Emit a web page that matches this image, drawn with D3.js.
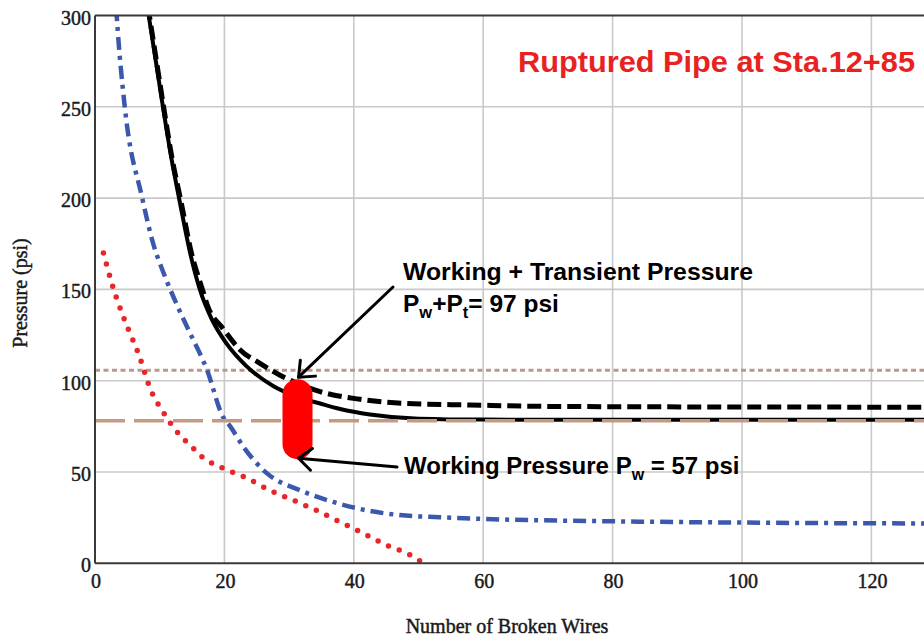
<!DOCTYPE html>
<html>
<head>
<meta charset="utf-8">
<script src="https://cdn.jsdelivr.net/npm/d3@7"></script>
<style>
  html, body { margin: 0; padding: 0; background: #fff; }
  svg { display: block; }
</style>
</head>
<body>
<svg id="chart" width="924" height="642"></svg>
<script>
// Pressure capacity versus number of broken prestressing wires

// Black solid curve
const solidWires = [7.6, 8.3, 9.4, 10.5, 11.8, 13.1, 14.7, 16.2, 18.0, 20.4, 23.4, 27.6, 31.0, 34.8, 37.9, 42.5, 50.0, 60.0, 80.0, 100.0, 130.0];
const solidPsi   = [316, 300, 275, 250, 222, 198, 170, 150, 134, 120, 108, 97, 91.5, 87.5, 84.5, 81.5, 79.2, 78.7, 78.6, 78.6, 78.6];

// Black dashed curve
const dashedWires = [7.7, 8.4, 9.5, 10.6, 11.9, 13.3, 14.9, 16.6, 17.4, 19.8, 22.4, 25.5, 28.6, 31.5, 34.8, 41.0, 47.6, 58.0, 70.8, 100.0, 130.0];
const dashedPsi   = [316, 300, 275, 250, 222, 198, 170, 150, 141, 128.5, 117, 109.5, 103, 98.2, 94, 89.8, 87.6, 86.7, 85.9, 85.6, 85.5];

// Blue dash-dot curve
const blueWires = [3.0, 3.35, 4.6, 7.3, 9.0, 10.6, 12.6, 14.7, 17.3, 19.8, 20.9, 22.9, 26.5, 31.7, 36.8, 42.0, 47.1, 53.3, 60.0, 80.0, 100.0, 130.0];
const bluePsi   = [320, 300, 250, 200, 175, 159, 142, 126, 106, 80, 75, 64, 49.5, 40, 33.6, 29, 26.4, 25.2, 24.3, 23.0, 22.3, 21.8];

// Red dotted curve
const redWires = [1.3, 2.8, 4.6, 6.8, 8.6, 10.5, 11.6, 13.1, 14.9, 16.5, 19.8, 23.5, 27.0, 30.6, 34.2, 37.9, 41.4, 45.0, 48.7, 50.5];
const redPsi   = [170, 151, 133, 114, 95, 83, 77, 70.3, 64, 58.4, 52, 46.6, 40, 34.6, 29, 22.6, 16.5, 10, 4.6, 0.7];

// Horizontal reference levels (psi)
const refDottedPsi = 105.7;
const refDashedPsi = 78.0;

// Annotated pressures
const workingPsi = 57;
const workingTransientPsi = 97;
const markerWires = 31.3;

// Axes
const xTicks = [0, 20, 40, 60, 80, 100, 120];
const yTicks = [0, 50, 100, 150, 200, 250, 300];
const xTitle = "Number of Broken Wires";
const yTitle = "Pressure (psi)";
const chartTitle = "Ruptured Pipe at Sta.12+85";

const W = 924, H = 642;
const plotLeft = 95, plotTop = 15.5, plotBottom = 563.3;
const pxPerWire = 6.47;

const x = d3.scaleLinear().domain([0, (W - plotLeft) / pxPerWire]).range([plotLeft, W]);
const y = d3.scaleLinear().domain([0, 300]).range([plotBottom, plotTop]);

const svg = d3.select("#chart");

svg.append("defs").append("clipPath").attr("id", "plot-clip")
  .append("rect").attr("x", plotLeft).attr("y", plotTop)
  .attr("width", W - plotLeft).attr("height", plotBottom - plotTop);

// Grid
const grid = svg.append("g");
grid.selectAll("line.v").data(xTicks.filter(d => d > 0)).join("line")
  .attr("x1", d => x(d)).attr("x2", d => x(d))
  .attr("y1", plotTop).attr("y2", plotBottom)
  .attr("stroke", "#c9c9c9").attr("stroke-width", 1.6);
grid.selectAll("line.h").data(yTicks.filter(d => d > 0 && d < 300)).join("line")
  .attr("x1", plotLeft).attr("x2", W)
  .attr("y1", d => y(d)).attr("y2", d => y(d))
  .attr("stroke", "#c9c9c9").attr("stroke-width", 1.6);

const plot = svg.append("g").attr("clip-path", "url(#plot-clip)");

const line = d3.line().x(d => x(d[0])).y(d => y(d[1])).curve(d3.curveMonotoneX);
const zip = (a, b) => a.map((v, i) => [v, b[i]]);

// Reference levels
plot.append("line")
  .attr("x1", plotLeft).attr("x2", W)
  .attr("y1", y(refDottedPsi)).attr("y2", y(refDottedPsi))
  .attr("stroke", "#b89a8c").attr("stroke-width", 3)
  .attr("stroke-dasharray", "5,3.5");

// Curves
plot.append("path").attr("d", line(zip(redWires, redPsi)))
  .attr("fill", "none").attr("stroke", "#e8262a").attr("stroke-width", 5.5)
  .attr("stroke-linecap", "round").attr("stroke-dasharray", "0,11.5");

plot.append("path").attr("d", line(zip(blueWires, bluePsi)))
  .attr("fill", "none").attr("stroke", "#3b58ad").attr("stroke-width", 4.5)
  .attr("stroke-dasharray", "13,6,4,6");

plot.append("path").attr("d", line(zip(solidWires, solidPsi)))
  .attr("fill", "none").attr("stroke", "#000").attr("stroke-width", 4);

plot.append("path").attr("d", line(zip(dashedWires, dashedPsi)))
  .attr("fill", "none").attr("stroke", "#000").attr("stroke-width", 5)
  .attr("stroke-dasharray", "14,6");

plot.append("line")
  .attr("x1", plotLeft).attr("x2", W)
  .attr("y1", y(refDashedPsi)).attr("y2", y(refDashedPsi))
  .attr("stroke", "#c49a82").attr("stroke-width", 3.5)
  .attr("stroke-dasharray", "30,9");

// Axis frame
const frame = svg.append("g").attr("stroke", "#3a3a3a").attr("stroke-width", 2);
frame.append("line").attr("x1", plotLeft).attr("x2", W).attr("y1", plotBottom).attr("y2", plotBottom);
frame.append("line").attr("x1", plotLeft).attr("x2", W).attr("y1", plotTop).attr("y2", plotTop);
frame.append("line").attr("x1", plotLeft).attr("x2", plotLeft).attr("y1", plotTop).attr("y2", plotBottom);

// Tick labels
const tickFont = "'Liberation Serif', 'Times New Roman', serif";
const serifText = sel => sel
  .attr("font-family", tickFont).attr("font-size", 20)
  .attr("fill", "#1a1a1a").attr("stroke", "#1a1a1a").attr("stroke-width", 0.45);

svg.append("g").selectAll("text").data(xTicks).join("text")
  .attr("x", d => x(d) + 1).attr("y", 588)
  .attr("text-anchor", "middle")
  .call(serifText)
  .text(d => d);
svg.append("g").selectAll("text").data(yTicks).join("text")
  .attr("x", 91).attr("y", d => y(d) + 9)
  .attr("text-anchor", "end")
  .call(serifText)
  .text(d => d);

// Axis titles
svg.append("text")
  .attr("x", 507).attr("y", 633)
  .attr("text-anchor", "middle")
  .call(serifText)
  .text(xTitle);
svg.append("text")
  .attr("transform", "translate(27,293) rotate(-90)")
  .attr("text-anchor", "middle")
  .call(serifText)
  .text(yTitle);

// Pressure range marker
const mx = x(markerWires);
const markerTop = y(workingTransientPsi) - 7;
const markerBottom = y(workingPsi);
svg.append("rect")
  .attr("x", mx - 15).attr("width", 30)
  .attr("y", markerTop).attr("height", markerBottom - markerTop)
  .attr("rx", 15).attr("ry", 15)
  .attr("fill", "#ff0000");

// Arrows
function arrow(x0, y0, x1, y1) {
  const g = svg.append("g").attr("stroke", "#000").attr("stroke-width", 3)
    .attr("fill", "none").attr("stroke-linecap", "round").attr("stroke-linejoin", "round");
  g.append("line").attr("x1", x0).attr("y1", y0).attr("x2", x1).attr("y2", y1);
  const a = Math.atan2(y0 - y1, x0 - x1);
  const len = 17, spread = 0.7;
  const p1 = [x1 + len * Math.cos(a - spread), y1 + len * Math.sin(a - spread)];
  const p2 = [x1 + len * Math.cos(a + spread), y1 + len * Math.sin(a + spread)];
  g.append("path").attr("d", `M${p1[0]},${p1[1]}L${x1},${y1}L${p2[0]},${p2[1]}`);
}
arrow(393, 287, mx + 1, markerTop - 2);
arrow(397, 467, mx + 1, markerBottom - 1);

// Annotation text
const annFont = "'Liberation Sans', Arial, sans-serif";
const ann = svg.append("g")
  .attr("font-family", annFont).attr("font-weight", "bold")
  .attr("font-size", 24.5).attr("fill", "#000");

ann.append("text").attr("x", 403).attr("y", 280)
  .attr("textLength", 350).attr("lengthAdjust", "spacingAndGlyphs")
  .text("Working + Transient Pressure");

const t2 = ann.append("text").attr("x", 403).attr("y", 311.5);
t2.append("tspan").text("P");
t2.append("tspan").attr("dy", 6).attr("font-size", 16.5).text("w");
t2.append("tspan").attr("dy", -6).text("+P");
t2.append("tspan").attr("dy", 6).attr("font-size", 16.5).text("t");
t2.append("tspan").attr("dy", -6).text("= " + workingTransientPsi + " psi");

const t3 = ann.append("text").attr("x", 404).attr("y", 473.5).attr("font-size", 24);
t3.append("tspan").text("Working Pressure P");
t3.append("tspan").attr("dy", 6).attr("font-size", 16).text("w");
t3.append("tspan").attr("dy", -6).text(" = " + workingPsi + " psi");

// Title
svg.append("text")
  .attr("x", 518).attr("y", 72)
  .attr("font-family", annFont).attr("font-weight", "bold")
  .attr("font-size", 29).attr("fill", "#e8231f")
  .attr("textLength", 397).attr("lengthAdjust", "spacingAndGlyphs")
  .text(chartTitle);
</script>
</body>
</html>
